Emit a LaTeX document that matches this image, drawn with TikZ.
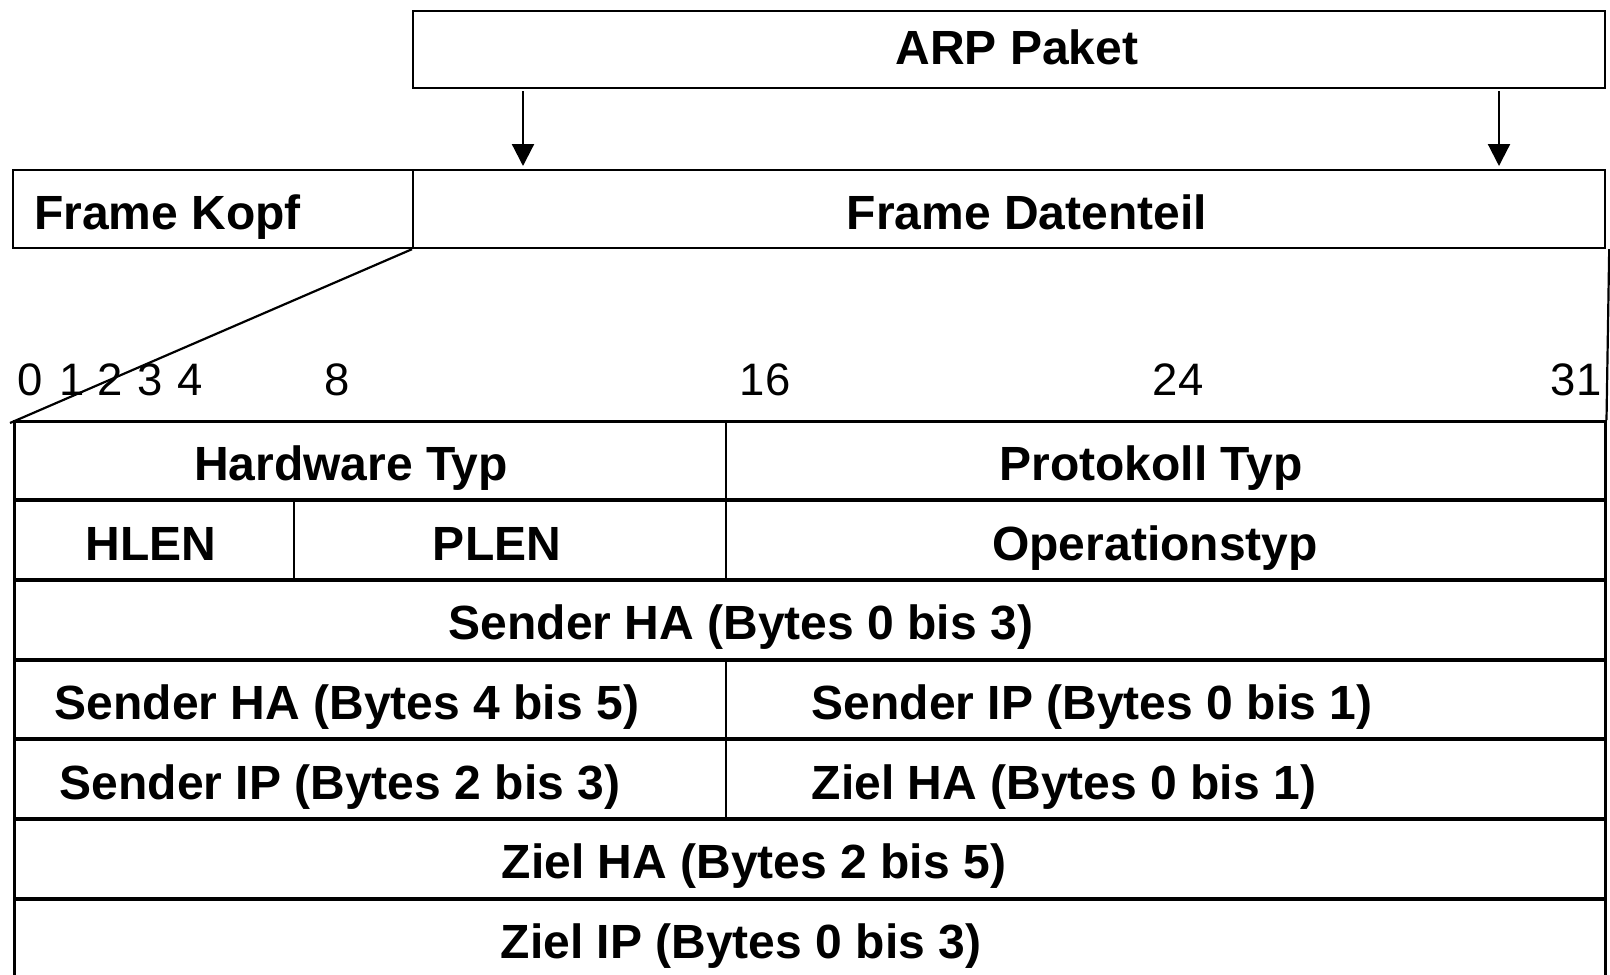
\documentclass[tikz,border=0pt]{standalone}
\usepackage{fontspec}
\setmainfont{Liberation Sans}
\usetikzlibrary{arrows.meta}
\begin{document}
\begin{tikzpicture}[x=1pt,y=-1pt,
  box/.style={draw, line width=2.2pt, inner sep=0pt, anchor=north west},
  rowbox/.style={draw, line width=2.5pt, inner sep=0pt, anchor=north west, minimum width=1591pt, minimum height=78.2pt},
  lbl/.style={font=\fontsize{48}{50}\selectfont\bfseries, inner sep=0pt, anchor=base},
  bit/.style={font=\fontsize{45.5}{50}\selectfont, inner sep=0pt, anchor=base},
  arr/.style={-{Triangle[width=22pt,length=22pt]}, line width=2.2pt},
  divider/.style={line width=2.5pt},
  thin/.style={line width=2.2pt}]
\useasboundingbox (0,0) rectangle (1610,975);

% top boxes
\node[box, minimum width=1192pt, minimum height=77.5pt] (arp) at (412,9.5) {};
\node[box, minimum width=400pt, minimum height=78pt] (kopf) at (12,169) {};
\node[box, minimum width=1192pt, minimum height=78pt] (data) at (412,169) {};

\node[lbl] (tarp) at (1017,64) {ARP Paket};
\node[lbl, anchor=base west] (tkopf) at (34,229) {Frame Kopf};
\node[lbl] (tdata) at (1027,229) {Frame Datenteil};

% arrows
\coordinate (a1) at (523,0);
\coordinate (a2) at (1499,0);
\draw[arr] (a1 |- arp.south) ++(0,2) -- ([yshift=3pt]a1 |- data.north);
\draw[arr] (a2 |- arp.south) ++(0,2) -- ([yshift=3pt]a2 |- data.north);

% table rows
\foreach \i/\t in {1/420,2/499.7,3/579.4,4/659.1,5/738.8,6/818.5,7/898.2,8/977.9}{
  \node[rowbox] (r\i) at (13,\t) {};
}

% zoom lines
\draw[thin] (data.south west) -- ([xshift=-3pt,yshift=-3pt]r1.north west);
\draw[thin] ([xshift=3pt]data.south east) -- (r1.north east);

% dividers
\coordinate (mid) at (726,0);
\coordinate (hl) at (294,0);
\draw[divider] (mid |- r1.north) -- (mid |- r2.south);
\draw[divider] (hl |- r2.north) -- (hl |- r2.south);
\draw[divider] (mid |- r4.north) -- (mid |- r5.south);

% bit numbers
\foreach \n/\x in {0/30,1/72,2/110,3/150,4/190,8/337,16/765,24/1178,31/1576}{
  \node[bit] (b\n) at (\x,395) {\n};
}

% labels
\node[lbl] (l1) at (351,480) {Hardware Typ};
\node[lbl] (l2) at (1151,480) {Protokoll Typ};
\node[lbl] (l3) at (151,560) {HLEN};
\node[lbl] (l4) at (497,560) {PLEN};
\node[lbl] (l5) at (1155,560) {Operationstyp};
\node[lbl] (l6) at (741,639) {Sender HA (Bytes 0 bis 3)};
\node[lbl] (l7) at (347,719) {Sender HA (Bytes 4 bis 5)};
\node[lbl] (l8) at (1092,719) {Sender IP (Bytes 0 bis 1)};
\node[lbl] (l9) at (340,799) {Sender IP (Bytes 2 bis 3)};
\node[lbl] (l10) at (1064,799) {Ziel HA (Bytes 0 bis 1)};
\node[lbl] (l11) at (754,878) {Ziel HA (Bytes 2 bis 5)};
\node[lbl] (l12) at (741,958) {Ziel IP (Bytes 0 bis 3)};
\end{tikzpicture}
\end{document}
